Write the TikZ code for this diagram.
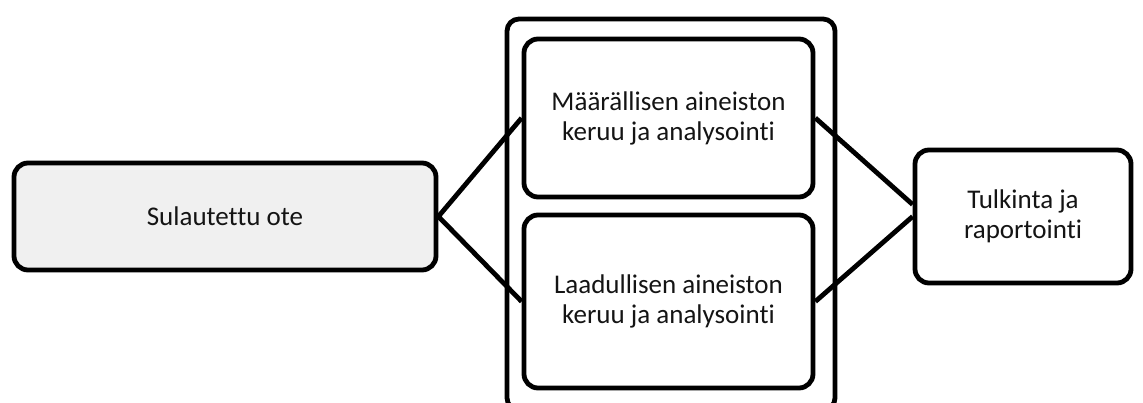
\documentclass[tikz,border=0pt]{standalone}
\usepackage{fontspec}
\setmainfont{Carlito}[Ligatures=NoCommon]
\begin{document}
\begin{tikzpicture}[x=1pt,y=-1pt,
  box/.style={draw=black, line width=4.8pt, rounded corners=14pt, align=center,
    inner sep=0pt, font=\fontsize{27}{30}\selectfont, text=black!92},
  conn/.style={draw=black, line width=4.8pt, line join=round}]
\useasboundingbox (0,0) rectangle (1143,403);
\node[box, fill=black!6, minimum width=422pt, minimum height=107pt] (sul) at (225,216.5) {Sulautettu ote};
\node[box, rounded corners=12pt, minimum width=328pt, minimum height=391pt] (outer) at (671,214.5) {};
\node[box, minimum width=289pt, minimum height=158pt] (maar) at (668.5,118) {Määrällisen aineiston\\keruu ja analysointi};
\node[box, minimum width=289pt, minimum height=173pt] (laad) at (668.5,301.5) {Laadullisen aineiston\\keruu ja analysointi};
\node[box, minimum width=216pt, minimum height=133pt] (tulk) at (1023,216.5) {Tulkinta ja\\raportointi};
\draw[conn] (maar.west) -- (sul.east) -- (laad.west);
\draw[conn] (maar.east) -- ([yshift=12pt]tulk.west);
\draw[conn] (laad.east) -- ([yshift=0pt]tulk.west);
\end{tikzpicture}
\end{document}
